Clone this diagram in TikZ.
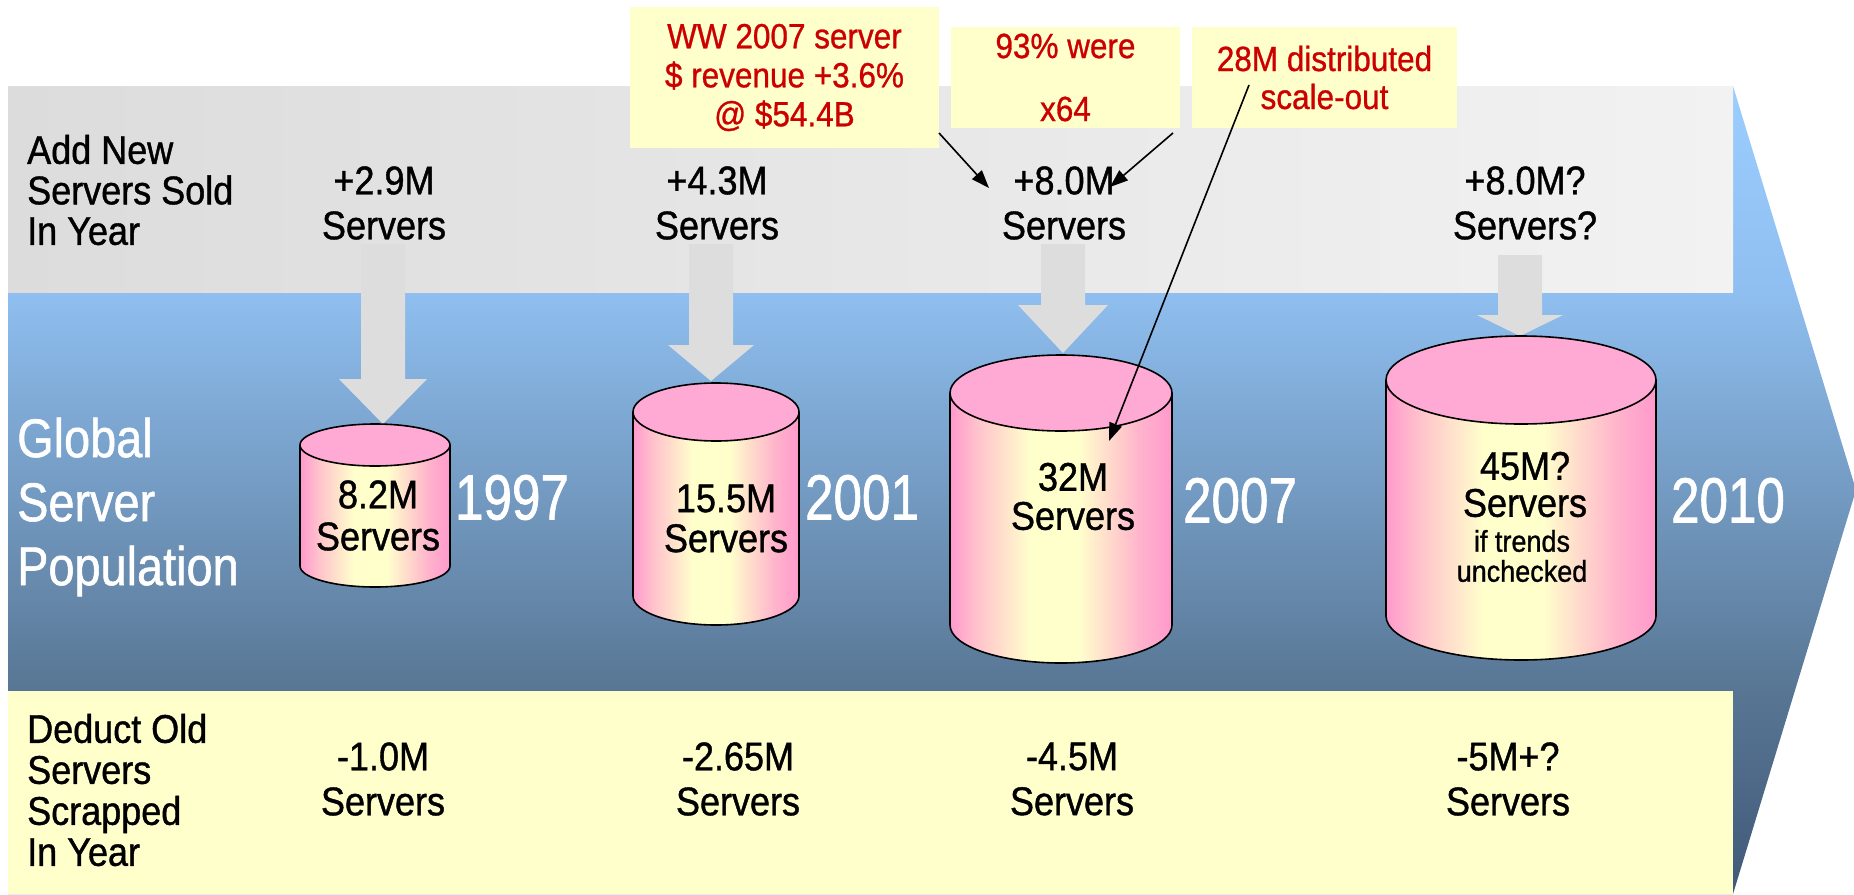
\documentclass[tikz,border=0pt]{standalone}
\usepackage{fontspec}
\setmainfont{Liberation Sans}
\newfontfamily\bfnt{Liberation Sans}[FakeStretch=0.9,FakeBold=1]
\newfontfamily\rfnt{Liberation Sans}[FakeStretch=0.9,FakeBold=0.8]
\newfontfamily\wfnt{Liberation Sans}[FakeStretch=0.86,FakeBold=1]
\newfontfamily\yfnt{Liberation Sans}[FakeStretch=0.8,FakeBold=1]
\usetikzlibrary{arrows.meta}
\definecolor{bandgrayL}{RGB}{220,220,220}
\definecolor{bandgrayR}{RGB}{242,242,242}
\definecolor{btop}{RGB}{155,205,255}
\definecolor{bmidA}{RGB}{143,191,240}
\definecolor{bmidB}{RGB}{88,118,148}
\definecolor{bbot}{RGB}{64,90,120}
\definecolor{noteY}{RGB}{255,255,204}
\definecolor{noteR}{RGB}{204,0,0}
\definecolor{cpink}{RGB}{255,153,204}
\definecolor{cpinkT}{RGB}{255,170,213}
\definecolor{cyel}{RGB}{255,255,204}
\colorlet{cmixA}{cpink!60!cyel}
\colorlet{cmixB}{cpink!75!cyel}
\definecolor{arrgray}{RGB}{221,221,221}
\pgfdeclareverticalshading{blueshade}{100bp}{color(0bp)=(bbot); color(25bp)=(bbot); color(37.6bp)=(bmidB); color(62.25bp)=(bmidA); color(75bp)=(btop); color(100bp)=(btop)}
\pgfdeclarehorizontalshading{cylshade}{100bp}{color(0bp)=(cpink); color(25bp)=(cpink); color(31bp)=(cmixA); color(43bp)=(cyel); color(54bp)=(cyel); color(68bp)=(cmixB); color(75bp)=(cpink); color(100bp)=(cpink)}
\tikzset{
 blk/.style={inner sep=0pt, align=center, text=black, font=\bfnt\fontsize{40}{45}\selectfont},
 blkL/.style={inner sep=0pt, align=left, anchor=west, text=black, font=\bfnt\fontsize{40}{40.5}\selectfont},
 cyltxt/.style={inner sep=0pt, align=center, text=black, font=\bfnt\fontsize{40}{41}\selectfont},
 cylsmall/.style={inner sep=0pt, align=center, text=black, font=\bfnt\fontsize{30}{30}\selectfont},
 wht/.style={inner sep=0pt, align=left, anchor=west, text=white, font=\wfnt\fontsize{54.5}{64}\selectfont},
 yr/.style={inner sep=0pt, text=white, font=\yfnt\fontsize{64}{64}\selectfont},
 notebox/.style={fill=noteY, inner sep=0pt, align=center, text=noteR, font=\rfnt\fontsize{35}{39}\selectfont},
 noteline/.style={line width=1.6pt, -{Triangle[length=18pt,width=13pt]}},
 cylline/.style={draw=black, line width=1.6pt},
}
\newcommand\fatdown[5]{%
 \fill[arrgray] ({#1-22},#2) -- ({#1-22},#3) -- ({#1-#5},#3) -- (#1,#4) -- ({#1+#5},#3) -- ({#1+22},#3) -- ({#1+22},#2) -- cycle;}
\newcommand\drawcyl[5]{%
 \shade[shading=cylshade] ({#1-#4},#2) -- ({#1-#4},#3) arc[start angle=180,end angle=360,x radius=#4pt,y radius=#5pt] -- ({#1+#4},#2) -- cycle;
 \draw[cylline] ({#1-#4},#2) -- ({#1-#4},#3) arc[start angle=180,end angle=360,x radius=#4pt,y radius=#5pt] -- ({#1+#4},#2);
 \filldraw[cylline, fill=cpinkT] (#1,#2) ellipse[x radius=#4pt, y radius=#5pt];}
\begin{document}
\begin{tikzpicture}[x=1pt,y=-1pt]
\useasboundingbox (0,0) rectangle (1854,894);
% big background arrow
\shade[shading=blueshade] (8,86) -- (1733,86) -- (1856,490) -- (1733,894) -- (8,894) -- cycle;
% bands
\shade[left color=bandgrayL, right color=bandgrayR] (8,86) rectangle (1733,292);
\fill[noteY] (8,691) rectangle (1733,894);
% gray down arrows
\fatdown{383}{244}{379}{424}{44}
\fatdown{711}{244}{345}{381}{43}
\fatdown{1063}{244}{305}{353}{45}
\fatdown{1520}{255}{315}{336}{43}
% cylinders
\drawcyl{375}{445}{566}{75}{21}
\drawcyl{716}{412}{596}{83}{29}
\drawcyl{1061}{393}{625}{111}{38}
\drawcyl{1521}{380}{616}{135}{44}
% row labels
\node[blkL] (addlbl) at (27,190) {Add New\\Servers Sold\\In Year};
\node[wht] (glob) at (17,507) {Global\\Server\\Population};
\node[blkL, font=\bfnt\fontsize{40}{41}\selectfont] (dedlbl) at (27,790) {Deduct Old\\Servers\\Scrapped\\In Year};
% top row
\node[blk] (t1) at (384,203) {+2.9M\\Servers};
\node[blk] (t2) at (717,203) {+4.3M\\Servers};
\node[blk] (t3) at (1064,203) {+8.0M\\Servers};
\node[blk] (t4) at (1525,203) {+8.0M?\\Servers?};
% cylinder texts
\node[cyltxt, font=\bfnt\fontsize{40}{42}\selectfont] (c1) at (378,515.5) {8.2M\\Servers};
\node[cyltxt, font=\bfnt\fontsize{40}{40}\selectfont] (c2) at (726,518.5) {15.5M\\Servers};
\node[cyltxt, font=\bfnt\fontsize{40}{39}\selectfont] (c3) at (1073,496.5) {32M\\Servers};
\node[cyltxt, font=\bfnt\fontsize{40}{37}\selectfont] (c4) at (1525,484.5) {45M?\\Servers};
\node[cylsmall] (c4s) at (1522,556) {if trends\\unchecked};
% years
\node[yr] (y1) at (512,497.5) {1997};
\node[yr] (y2) at (862,497.5) {2001};
\node[yr] (y3) at (1240,500.5) {2007};
\node[yr] (y4) at (1728,500.5) {2010};
% bottom row
\node[blk] (b1) at (383,779) {-1.0M\\Servers};
\node[blk] (b2) at (738,779) {-2.65M\\Servers};
\node[blk] (b3) at (1072,779) {-4.5M\\Servers};
\node[blk] (b4) at (1508,779) {-5M+?\\Servers};
% callouts
\node[notebox, minimum width=309pt, minimum height=141pt] (n1) at (784.5,77.5) {WW 2007 server\\\$ revenue +3.6\%\\@ \$54.4B};
\node[notebox, minimum width=229pt, minimum height=101pt] (n2) at (1065.5,77.5) {93\% were\\[24pt]x64};
\node[notebox, minimum width=265pt, minimum height=101pt, font=\rfnt\fontsize{35}{38}\selectfont] (n3) at (1324.5,77.5) {28M distributed\\scale-out};
\coordinate (a1s) at (939,133);
\coordinate (a1e) at (989,188);
\coordinate (a2s) at (1173,133);
\coordinate (a2e) at (1110,187);
\coordinate (a3s) at (1249,85);
\coordinate (a3e) at (1109,441);
\draw[noteline] (a1s) -- (a1e);
\draw[noteline] (a2s) -- (a2e);
\draw[noteline] (a3s) -- (a3e);
\end{tikzpicture}
\end{document}
